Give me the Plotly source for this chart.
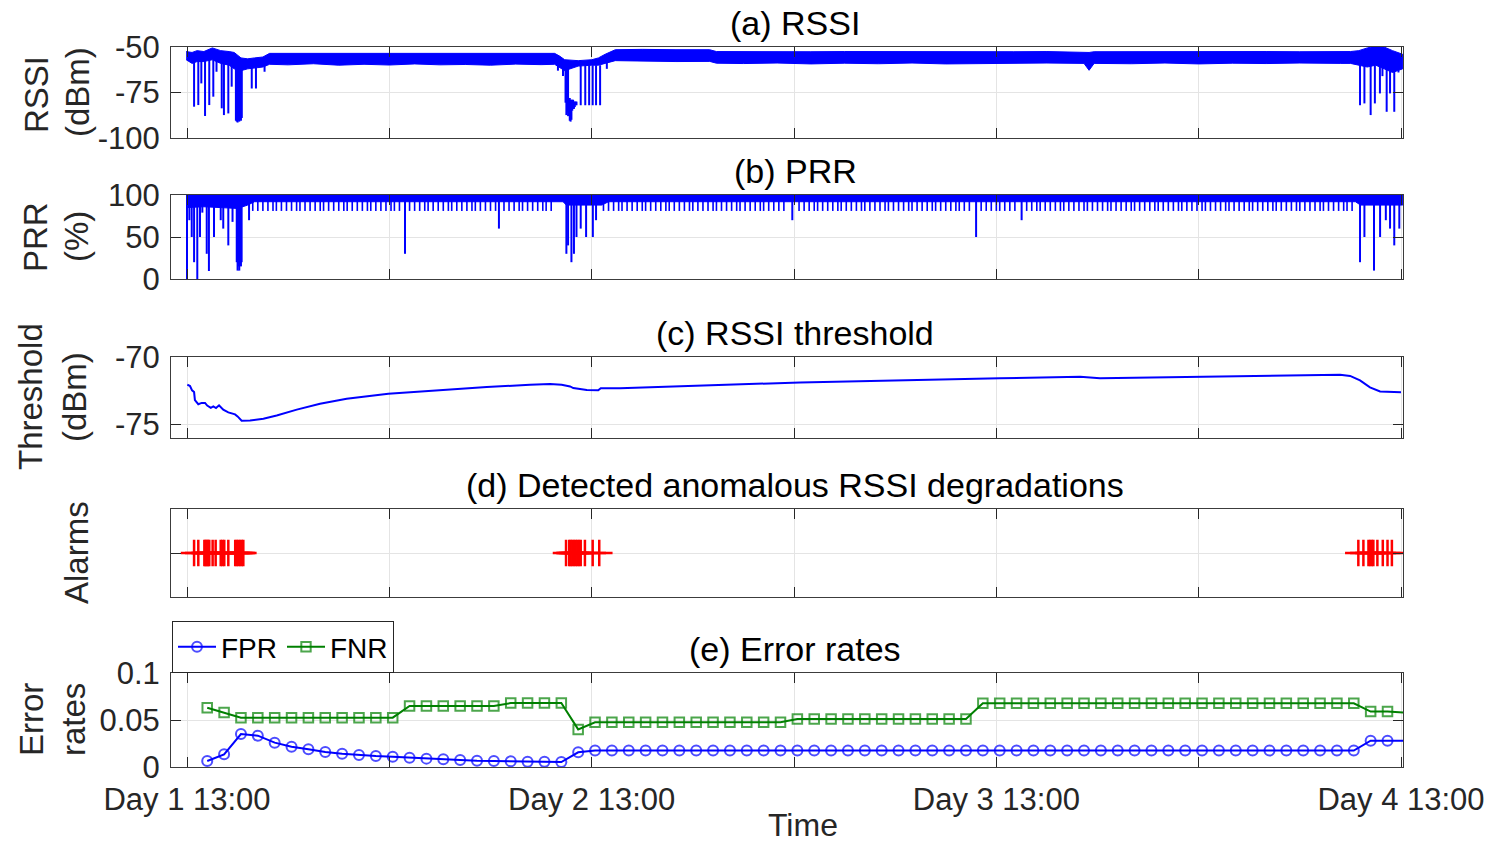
import plotly.graph_objects as go

# ---------------- data (hours after Day 1 13:00) ----------------
day_ticks = [0, 12, 24, 36, 48, 60, 72]
day_tick_text = ["Day 1 13:00", "", "Day 2 13:00", "", "Day 3 13:00", "", "Day 4 13:00"]

# (a) RSSI: dense band envelope (dBm) + deep drops
rssi_band_h = [-0.05, 0.3, 0.6, 1.0, 1.5, 2.0, 2.5, 2.8, 3.2, 3.6, 4.0, 4.5, 4.9, 6.0, 7.5, 9.0,
               10.5, 12.0, 13.5, 15.0, 16.5, 18.0, 19.5, 21.0, 21.8, 22.1, 22.4, 23.2, 24.0, 24.4,
               24.8, 25.4, 27.0, 29.0, 31.0, 31.4, 33.0, 35.0, 37.0, 39.0, 41.0, 43.0, 45.0, 47.0,
               49.0, 51.0, 53.2, 53.5, 53.8, 56.0, 58.0, 60.0, 62.0, 64.0, 66.0, 68.4, 69.0, 69.5,
               70.0, 70.5, 71.0, 71.5, 72.1]
rssi_band_hi = [-52.5, -53, -52, -52.5, -50.5, -52, -52.5, -53, -56, -56.5, -56, -55.5, -53.5, -53.5,
                -53.3, -53.5, -53.4, -53.5, -53.3, -53.5, -53.4, -53.3, -53.5, -53.4, -53.5, -55, -57,
                -57.5, -57, -56, -54, -51.5, -51.3, -51.5, -51.5, -52.5, -52.6, -52.5, -52.6, -52.5,
                -52.6, -52.5, -52.6, -52.5, -52.6, -52.5, -52.6, -53, -52.6, -52.5, -52.6, -52.5,
                -52.6, -52.5, -52.6, -52.5, -52.5, -52, -50.5, -49.5, -50, -52, -54]
rssi_band_lo = [-57, -59, -58, -58, -57, -59, -60, -62, -63, -62, -61.5, -61, -59.5, -59.8, -59.2,
                -60.0, -59.5, -59.9, -59.3, -59.8, -59.6, -60.0, -59.4, -59.7, -59.5, -61, -63, -60.5,
                -60, -60, -59, -57.5, -57.8, -58.0, -57.9, -58.9, -59.1, -58.8, -59.3, -58.9, -59.2,
                -58.8, -59.3, -59.0, -59.1, -58.8, -59.0, -62.8, -59.0, -59.2, -58.8, -59.3, -58.9,
                -59.1, -58.8, -59.0, -59, -60, -61, -60, -62, -64, -62]
rssi_drop_h = [0.42, 0.67, 0.85, 1.07, 1.32, 1.56, 1.75, 2.06, 2.19, 2.45, 2.65, 2.9, 2.95, 3.0,
               3.05, 3.1, 3.15, 3.2, 3.25, 3.84, 4.09, 4.6,
               22.0, 22.3, 22.45, 22.5, 22.55, 22.6, 22.7, 22.75, 22.8, 22.85, 22.9, 22.95, 23.0,
               23.05, 23.1, 23.35, 23.62, 23.85, 24.06, 24.26, 24.5, 24.9,
               69.57, 69.83, 70.2, 70.45, 70.75, 70.9, 71.15, 71.35, 71.6, 71.85]
rssi_drop_hi = [-57, -57, -57, -57, -57, -57, -57, -58, -58, -59, -60, -60, -62, -62,
                -62, -62, -62, -62, -62, -61, -61, -60,
                -60, -62, -62, -62, -62, -62, -78, -79, -79, -79, -79, -80, -80,
                -80, -80, -60, -60, -60, -60, -60, -60, -58,
                -59, -59, -60, -60, -60, -60, -61, -62, -63, -62]
rssi_drop_lo = [-82.8, -81.9, -70, -87.9, -81.9, -77.3, -63.6, -83.7, -87.4, -86.5, -71.8, -90.5,
                -91, -91.5, -90.5, -91, -90, -90.5, -89, -72.8, -72.8, -63.6,
                -63, -66, -80.6, -87.4, -86, -88, -90.5, -91, -90, -85, -84, -84, -83,
                -82, -82, -82, -82, -82, -82, -82, -82, -62,
                -82, -81, -87.4, -81, -75.5, -66, -85.6, -75.5, -85.6, -64]

# (b) PRR (%): dense band + periodic teeth + deep drops
prr_band_h = [-0.05, 1.0, 2.0, 3.0, 3.6, 4.0, 22.3, 22.5, 24.6, 25.0, 69.3, 69.6, 72.1]
prr_band_hi = [100, 100, 100, 100, 100, 100, 100, 100, 100, 100, 100, 100, 100]
prr_band_lo = [85, 86, 85, 84, 88, 92, 92, 88, 88, 92, 92, 88, 88]
prr_teeth_h = [3.9, 4.2, 4.5, 4.8, 5.1, 5.3, 5.6, 5.9, 6.2, 6.5, 6.7, 7.0, 7.3, 7.6, 7.9, 8.1, 8.4,
               8.7, 9.0, 9.3, 9.5, 9.8, 10.1, 10.4, 10.7, 10.9, 11.2, 11.5, 11.8, 12.1, 12.3, 12.6,
               13.2, 13.5, 13.8, 14.1, 14.3, 14.6, 14.9, 15.2, 15.5, 15.7, 16.0, 16.3, 16.6, 16.9,
               17.1, 17.4, 17.7, 18.0, 18.3, 18.8, 19.1, 19.4, 19.7, 19.9, 20.2, 20.5, 20.8, 21.1,
               21.3, 21.6, 24.7, 25.0, 25.3, 25.6, 25.8, 26.1, 26.4, 26.7, 27.0, 27.2, 27.5, 27.8,
               28.1, 28.4, 28.6, 28.9, 29.2, 29.5, 29.8, 30.0, 30.3, 30.6, 30.9, 31.2, 31.4, 31.7,
               32.0, 32.3, 32.6, 32.8, 33.1, 33.4, 33.7, 34.0, 34.2, 34.5, 34.8, 35.1, 35.4, 36.3,
               36.6, 36.9, 37.2, 37.4, 37.7, 38.0, 38.3, 38.6, 38.8, 39.1, 39.4, 39.7, 40.0, 40.2,
               40.5, 40.8, 41.1, 41.4, 41.6, 41.9, 42.2, 42.5, 42.8, 43.0, 43.3, 43.6, 43.9, 44.2,
               44.4, 44.7, 45.0, 45.3, 45.6, 45.8, 46.1, 46.4, 47.1, 47.4, 47.7, 48.0, 48.2, 48.5,
               48.8, 49.1, 49.8, 50.1, 50.4, 50.6, 50.9, 51.2, 51.5, 51.8, 52.0, 52.3, 52.6, 52.9,
               53.2, 53.4, 53.7, 54.0, 54.3, 54.6, 54.8, 55.1, 55.4, 55.7, 56.0, 56.2, 56.5, 56.8,
               57.1, 57.4, 57.6, 57.9, 58.2, 58.5, 58.8, 59.0, 59.3, 59.6, 59.9, 60.2, 60.4, 60.7,
               61.0, 61.3, 61.6, 61.8, 62.1, 62.4, 62.7, 63.0, 63.2, 63.5, 63.8, 64.1, 64.4, 64.6,
               64.9, 65.2, 65.5, 65.8, 66.0, 66.3, 66.6, 66.9, 67.2, 67.4, 67.7, 68.0, 68.3, 68.6,
               68.8, 69.1]
prr_teeth_lo = 81
prr_drop_h = [0.0, 0.14, 0.28, 0.42, 0.61, 0.77, 0.91, 1.17, 1.3, 1.6, 2.0, 2.15, 2.45, 2.7, 2.95,
              3.0, 3.05, 3.1, 3.15, 3.2, 3.24, 3.68, 12.93, 18.5, 22.5, 22.6, 22.8, 22.95, 23.1,
              23.35, 23.67, 24.07, 24.26, 35.9, 46.8, 49.5, 69.57, 69.83, 70.4, 70.76, 71.1, 71.35,
              71.6, 71.9]
prr_drop_lo = [0, 70, 50, 20, 0, 50, 79, 30, 9.5, 50, 70, 60, 40, 68, 20,
               10, 15, 10, 19, 15, 20, 70, 30, 60, 30, 40, 20, 30, 50,
               60, 50, 50, 70, 70, 50, 70, 20, 50, 10, 50, 70, 60,
               40, 60]

# (c) RSSI threshold (dBm)
thr_h = [0.02, 0.18, 0.3, 0.42, 0.47, 0.67, 0.87, 1.07, 1.2, 1.41, 1.56, 1.72, 1.9, 2.15, 2.45,
         2.85, 3.0, 3.24, 3.74, 4.53, 5.32, 6.51, 7.89, 9.47, 11.94, 14.81, 17.78, 20.34, 21.53,
         22.22, 22.72, 22.91, 23.71, 24.39, 24.54, 25.68, 36.36, 48.2, 52.97, 54.15, 68.39,
         68.98, 69.57, 70.16, 70.76, 72.0]
thr_v = [-72.05, -72.15, -72.47, -72.6, -73.2, -73.5, -73.4, -73.4, -73.6, -73.76, -73.66, -73.78,
         -73.58, -73.9, -74.1, -74.25, -74.4, -74.72, -74.7, -74.58, -74.33, -73.9, -73.46, -73.09,
         -72.72, -72.47, -72.23, -72.05, -72.0, -72.05, -72.18, -72.3, -72.45, -72.47, -72.32,
         -72.32, -71.88, -71.58, -71.47, -71.58, -71.32, -71.4, -71.73, -72.25, -72.55, -72.62]

# (d) detected alarms
alarm_h = [0.42, 0.67, 1.03, 1.1, 1.17, 1.25, 1.32, 1.52, 1.7, 2.0, 2.1, 2.21, 2.45, 2.86, 2.95,
           3.05, 3.15, 3.25, 3.34,
           22.48, 22.67, 22.75, 22.85, 22.95, 23.05, 23.15, 23.25, 23.35, 23.6, 24.06, 24.45,
           69.47, 69.77, 70.07, 70.17, 70.27, 70.36, 70.6, 70.92, 71.2, 71.46]
alarm_level = 1

# (e) error rates, hourly
err_hours = [1.2, 2.2, 3.2, 4.2, 5.2, 6.2, 7.2, 8.2, 9.2, 10.2, 11.2, 12.2, 13.2, 14.2, 15.2, 16.2,
             17.2, 18.2, 19.2, 20.2, 21.2, 22.2, 23.2, 24.2, 25.2, 26.2, 27.2, 28.2, 29.2, 30.2,
             31.2, 32.2, 33.2, 34.2, 35.2, 36.2, 37.2, 38.2, 39.2, 40.2, 41.2, 42.2, 43.2, 44.2,
             45.2, 46.2, 47.2, 48.2, 49.2, 50.2, 51.2, 52.2, 53.2, 54.2, 55.2, 56.2, 57.2, 58.2,
             59.2, 60.2, 61.2, 62.2, 63.2, 64.2, 65.2, 66.2, 67.2, 68.2, 69.2, 70.2, 71.2, 72.2]
fpr = [0.0064, 0.0135, 0.035, 0.0333, 0.0259, 0.0216, 0.0188, 0.016, 0.0142, 0.0128, 0.0117,
       0.011, 0.0099, 0.0089, 0.0082, 0.0074, 0.0067, 0.0064, 0.006, 0.0057, 0.0057, 0.0053,
       0.0156, 0.0175, 0.0175, 0.0175, 0.0175, 0.0175, 0.0175, 0.0175, 0.0175, 0.0175, 0.0175,
       0.0175, 0.0175, 0.0175, 0.0175, 0.0175, 0.0175, 0.0175, 0.0175, 0.0175, 0.0175, 0.0175,
       0.0175, 0.0175, 0.0175, 0.0175, 0.0175, 0.0175, 0.0175, 0.0175, 0.0175, 0.0175, 0.0175,
       0.0175, 0.0175, 0.0175, 0.0175, 0.0175, 0.0175, 0.0175, 0.0175, 0.0175, 0.0175, 0.0175,
       0.0175, 0.0175, 0.0175, 0.028, 0.028, 0.028]
fnr = [0.063, 0.058, 0.0525, 0.0525, 0.0525, 0.0525, 0.0525, 0.0525, 0.0525, 0.0525, 0.0525,
       0.0525, 0.065, 0.065, 0.065, 0.065, 0.065, 0.065, 0.068, 0.068, 0.068, 0.068, 0.040,
       0.0475, 0.0475, 0.0475, 0.0475, 0.0475, 0.0475, 0.0475, 0.0475, 0.0475, 0.0475, 0.0475,
       0.0475, 0.051, 0.051, 0.051, 0.051, 0.051, 0.051, 0.051, 0.051, 0.051, 0.051, 0.051,
       0.0677, 0.0677, 0.0677, 0.0677, 0.0677, 0.0677, 0.0677, 0.0677, 0.0677, 0.0677, 0.0677,
       0.0677, 0.0677, 0.0677, 0.0677, 0.0677, 0.0677, 0.0677, 0.0677, 0.0677, 0.0677, 0.0677,
       0.0677, 0.059, 0.059, 0.0578]

panel_titles = ["(a) RSSI", "(b) PRR", "(c) RSSI threshold",
                "(d) Detected anomalous RSSI degradations", "(e) Error rates"]

# ---------------- layout geometry (pixels) ----------------
W, H = 1492, 844
FONT = "Liberation Sans, Arial, Helvetica, sans-serif"
BLUE, RED, GREEN = "#0000FF", "#FF0000", "#008000"
AX_LINE, TICK_C, GRID_C, TXT = "#3c3c3c", "#262626", "#e4e4e4", "#262626"

x_left, x_right = 171, 1403
x0_px, x72_px = 187, 1401
kx = (x72_px - x0_px) / 72.0
x_range = [(x_left - x0_px) / kx, 72 + (x_right - x72_px) / kx]
x_dom = [x_left / W, x_right / W]
panel_px = [(47, 138), (195, 279), (357, 438), (509, 597), (673, 767)]


def ydom(top, bot):
    return [1 - bot / H, 1 - top / H]


def seg(hs, his, los):
    xs, ys = [], []
    for h, a, b in zip(hs, his, los):
        xs += [h, h, None]
        ys += [a, b, None]
    return xs, ys


fig = go.Figure()

# (a) RSSI
fig.add_trace(go.Scatter(x=rssi_band_h + rssi_band_h[::-1], y=rssi_band_hi + rssi_band_lo[::-1],
                         fill="toself", fillcolor=BLUE, mode="lines",
                         line=dict(color=BLUE, width=1), xaxis="x", yaxis="y", showlegend=False))
sx, sy = seg(rssi_drop_h, rssi_drop_hi, rssi_drop_lo)
fig.add_trace(go.Scatter(x=sx, y=sy, mode="lines", line=dict(color=BLUE, width=2),
                         xaxis="x", yaxis="y", showlegend=False))

# (b) PRR
fig.add_trace(go.Scatter(x=prr_band_h + prr_band_h[::-1], y=prr_band_hi + prr_band_lo[::-1],
                         fill="toself", fillcolor=BLUE, mode="lines",
                         line=dict(color=BLUE, width=1), xaxis="x2", yaxis="y2", showlegend=False))
tx, ty = seg(prr_teeth_h, [95] * len(prr_teeth_h), [prr_teeth_lo] * len(prr_teeth_h))
fig.add_trace(go.Scatter(x=tx, y=ty, mode="lines", line=dict(color=BLUE, width=1.6),
                         xaxis="x2", yaxis="y2", showlegend=False))
dx, dy = seg(prr_drop_h, [100] * len(prr_drop_h), prr_drop_lo)
fig.add_trace(go.Scatter(x=dx, y=dy, mode="lines", line=dict(color=BLUE, width=2),
                         xaxis="x2", yaxis="y2", showlegend=False))

# (c) threshold
fig.add_trace(go.Scatter(x=thr_h, y=thr_v, mode="lines", line=dict(color=BLUE, width=2),
                         xaxis="x3", yaxis="y3", showlegend=False))

# (d) alarms
fig.add_trace(go.Scatter(x=alarm_h, y=[alarm_level] * len(alarm_h), mode="markers",
                         marker=dict(symbol="cross-thin", size=19, color=RED,
                                     line=dict(color=RED, width=2.5)),
                         xaxis="x4", yaxis="y4", showlegend=False, cliponaxis=True))

# (e) error rates
msize_c = [10 if h <= 72 else 0 for h in err_hours]
msize_s = [9.5 if h <= 72 else 0 for h in err_hours]
fig.add_trace(go.Scatter(x=err_hours, y=fpr, mode="lines+markers", name="FPR",
                         line=dict(color=BLUE, width=2),
                         marker=dict(symbol="circle-open", size=msize_c, color=BLUE,
                                     line=dict(width=2, color=BLUE)),
                         xaxis="x5", yaxis="y5"))
fig.add_trace(go.Scatter(x=err_hours, y=fnr, mode="lines+markers", name="FNR",
                         line=dict(color=GREEN, width=2),
                         marker=dict(symbol="square-open", size=msize_s, color=GREEN,
                                     line=dict(width=2, color=GREEN)),
                         xaxis="x5", yaxis="y5"))

common = dict(showline=True, linecolor=AX_LINE, linewidth=1, mirror="ticks", ticks="inside",
              ticklen=10, tickwidth=1, tickcolor=TICK_C, showgrid=True, gridcolor=GRID_C,
              gridwidth=1, zeroline=False, automargin=False,
              tickfont=dict(family=FONT, size=31, color=TXT))

y_specs = [
    dict(range=[-100, -50], tickvals=[-100, -75, -50], ticktext=["-100", "-75", "-50"], showticklabels=True),
    dict(range=[0, 100], tickvals=[0, 50, 100], ticktext=["0", "50", "100"], showticklabels=True),
    dict(range=[-76, -70], tickvals=[-75, -70], ticktext=["-75", "-70"], showticklabels=True),
    dict(range=[0, 2], tickvals=[1], showticklabels=False),
    dict(range=[0, 0.1], tickvals=[0, 0.05, 0.1], ticktext=["0", "0.05", "0.1"], showticklabels=True),
]

layout = dict(template="none", width=W, height=H, margin=dict(l=0, r=0, t=0, b=0, pad=0),
              paper_bgcolor="white", plot_bgcolor="white",
              font=dict(family=FONT, color=TXT),
              legend=dict(orientation="h", x=172 / W, y=1 - 621 / H, xanchor="left", yanchor="top",
                          bordercolor=TICK_C, borderwidth=1, bgcolor="white",
                          font=dict(family=FONT, size=28, color="black"),
                          itemwidth=38, tracegroupgap=0))

annotations = []
for i, (top, bot) in enumerate(panel_px, start=1):
    xa = dict(domain=x_dom, range=x_range, tickvals=day_ticks, ticktext=day_tick_text,
              showticklabels=(i == 5), anchor="y%d" % i, ticklabelstandoff=5, **common)
    ya = dict(domain=ydom(top, bot), anchor="x%d" % i, ticklabelstandoff=4, **common)
    ya.update(y_specs[i - 1])
    layout["xaxis" if i == 1 else "xaxis%d" % i] = xa
    layout["yaxis" if i == 1 else "yaxis%d" % i] = ya
    annotations.append(dict(text=panel_titles[i - 1], x=795 / W, y=1 - (top - 24) / H,
                            xref="paper", yref="paper", xanchor="center", yanchor="middle",
                            showarrow=False, font=dict(family=FONT, size=34, color="black")))

ylabels = [("RSSI", 36, 95), ("(dBm)", 77, 92), ("PRR", 36, 237), ("(%)", 77, 237),
           ("Threshold", 30, 397), ("(dBm)", 74, 397), ("Alarms", 76, 553),
           ("Error", 31, 720), ("rates", 73, 720)]
for txt, px, py in ylabels:
    annotations.append(dict(text=txt, x=px / W, y=1 - py / H, xref="paper", yref="paper",
                            xanchor="center", yanchor="middle", textangle=-90, showarrow=False,
                            font=dict(family=FONT, size=33, color=TXT)))
annotations.append(dict(text="Time", x=803 / W, y=0, xref="paper", yref="paper",
                        xanchor="center", yanchor="bottom", showarrow=False, borderpad=0,
                        font=dict(family=FONT, size=32, color=TXT)))
layout["annotations"] = annotations

fig.update_layout(**layout)

fig.write_html("out.html", config={"displayModeBar": False},
               post_script="document.body.style.margin='0px';")
